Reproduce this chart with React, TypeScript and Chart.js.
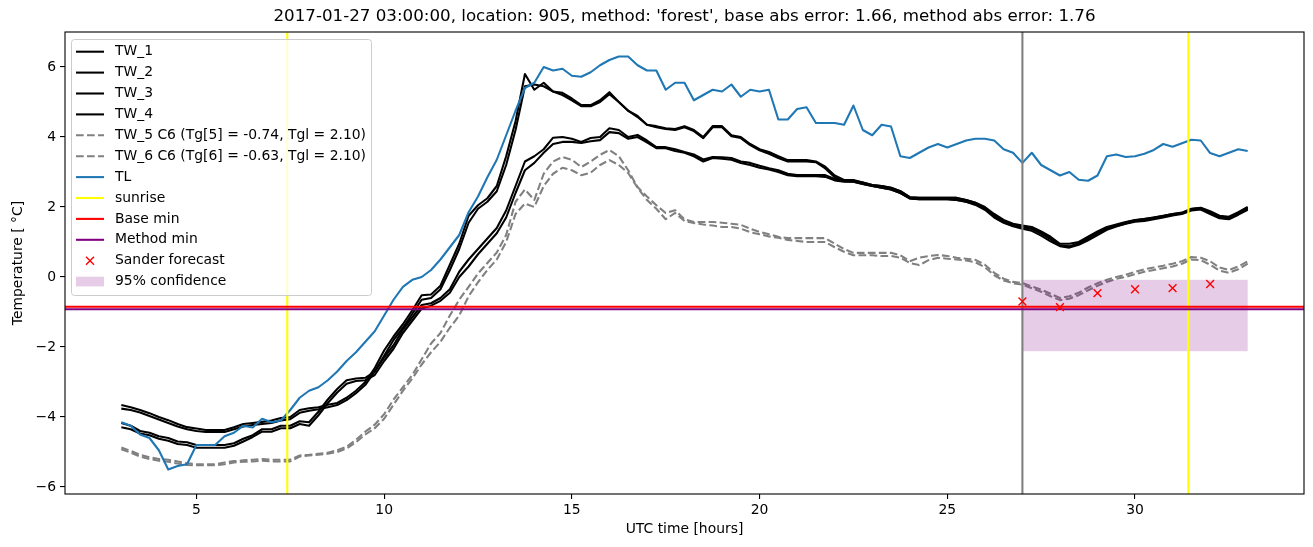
import { useEffect, useRef } from 'react';
import { Chart, registerables } from 'chart.js';

Chart.register(...registerables);

// time axis: 15-minute steps from 03:00 to 33:00 (hours since day start, UTC)
const HOURS: number[] = Array.from({ length: 121 }, (_, i) => 3 + i * 0.25);

const TW_1 = [
  -3.66, -3.72, -3.8, -3.89, -4.0, -4.09, -4.2, -4.29,
  -4.33, -4.37, -4.37, -4.37, -4.29, -4.2, -4.17, -4.14,
  -4.1, -4.03, -4.0, -3.8, -3.75, -3.72, -3.65, -3.6,
  -3.45, -3.25, -3.0, -2.6, -2.1, -1.7, -1.35, -0.95,
  -0.52, -0.5, -0.25, 0.35, 0.95, 1.75, 2.05, 2.25,
  2.6, 3.45, 4.45, 5.8, 5.35, 5.55, 5.3, 5.26,
  5.1, 4.91, 4.91, 5.05, 5.28, 5.0, 4.75, 4.6,
  4.35, 4.31, 4.25, 4.23, 4.31, 4.2, 4.0, 4.31,
  4.31, 4.05, 4.0, 3.8, 3.65, 3.57, 3.45, 3.34,
  3.34, 3.34, 3.3, 3.15, 2.9, 2.77, 2.77, 2.7,
  2.63, 2.6, 2.55, 2.45, 2.28, 2.26, 2.26, 2.26,
  2.26, 2.26, 2.2, 2.12, 2.0, 1.8, 1.63, 1.52,
  1.47, 1.43, 1.3, 1.15, 0.95, 0.95, 1.0, 1.15,
  1.3, 1.43, 1.5, 1.57, 1.63, 1.66, 1.7, 1.75,
  1.8, 1.84, 1.95, 1.98, 1.88, 1.75, 1.72, 1.85,
  2.0,
];

const TW_2 = [
  -3.76, -3.8, -3.87, -3.97, -4.07, -4.17, -4.27, -4.35,
  -4.4, -4.43, -4.43, -4.43, -4.35, -4.27, -4.23, -4.2,
  -4.17, -4.1, -4.06, -3.88, -3.82, -3.78, -3.72, -3.66,
  -3.52, -3.32, -3.08, -2.7, -2.25, -1.8, -1.45, -1.05,
  -0.65, -0.6, -0.35, 0.2, 0.8, 1.55, 1.95, 2.15,
  2.45, 3.2, 4.2, 5.45, 5.5, 5.45, 5.3, 5.2,
  5.05, 4.88, 4.88, 5.0, 5.22, 5.0, 4.75, 4.57,
  4.35, 4.28, 4.23, 4.2, 4.28, 4.17, 3.97, 4.28,
  4.28, 4.02, 3.97, 3.77, 3.62, 3.52, 3.4, 3.3,
  3.3, 3.3, 3.28, 3.1, 2.85, 2.74, 2.72, 2.66,
  2.6, 2.55, 2.5, 2.4, 2.26, 2.22, 2.22, 2.22,
  2.22, 2.2, 2.15, 2.08, 1.95, 1.75, 1.58, 1.47,
  1.42, 1.38, 1.25, 1.08, 0.9, 0.88, 0.95, 1.1,
  1.25, 1.38, 1.46, 1.53, 1.6, 1.62, 1.67, 1.72,
  1.77, 1.82, 1.92, 1.95, 1.83, 1.7, 1.66, 1.8,
  1.95,
];

const TW_3 = [
  -4.17, -4.25, -4.4, -4.45, -4.55, -4.6, -4.7, -4.72,
  -4.8, -4.8, -4.8, -4.8, -4.75, -4.62, -4.52, -4.35,
  -4.35, -4.25, -4.25, -4.12, -4.15, -3.85, -3.5, -3.2,
  -2.95, -2.9, -2.88, -2.7, -2.3, -1.95, -1.5, -1.15,
  -0.8, -0.75, -0.6, -0.35, 0.15, 0.5, 0.8, 1.1,
  1.4, 1.9, 2.6, 3.3, 3.45, 3.65, 3.98, 4.0,
  3.95, 3.86, 3.97, 4.0, 4.25, 4.2, 4.0, 4.06,
  3.9, 3.71, 3.71, 3.65, 3.57, 3.5, 3.36, 3.43,
  3.42, 3.4, 3.3, 3.26, 3.18, 3.11, 3.05, 2.95,
  2.91, 2.91, 2.91, 2.91, 2.8, 2.75, 2.75, 2.7,
  2.63, 2.6, 2.55, 2.45, 2.28, 2.26, 2.26, 2.26,
  2.26, 2.26, 2.2, 2.12, 1.98, 1.75, 1.6, 1.48,
  1.43, 1.38, 1.25, 1.1, 0.9, 0.86, 0.98, 1.1,
  1.25, 1.4, 1.48, 1.56, 1.62, 1.65, 1.7, 1.74,
  1.8, 1.83, 1.94, 1.97, 1.85, 1.72, 1.7, 1.82,
  1.98,
];

const TW_4 = [
  -4.29, -4.35, -4.47, -4.52, -4.62, -4.68, -4.77, -4.8,
  -4.88, -4.88, -4.88, -4.88, -4.82, -4.7, -4.57, -4.42,
  -4.42, -4.32, -4.32, -4.2, -4.25, -3.95, -3.6, -3.3,
  -3.05, -2.97, -2.95, -2.8, -2.4, -2.05, -1.6, -1.25,
  -0.9, -0.82, -0.68, -0.45, 0.0, 0.3, 0.65, 0.95,
  1.25, 1.7, 2.4, 3.05, 3.26, 3.55, 3.8, 3.86,
  3.86, 3.83, 3.88, 3.91, 4.14, 4.11, 3.95, 4.0,
  3.85, 3.68, 3.68, 3.6, 3.55, 3.45, 3.3, 3.4,
  3.38, 3.35, 3.26, 3.2, 3.12, 3.07, 3.0, 2.91,
  2.88, 2.88, 2.88, 2.86, 2.76, 2.72, 2.72, 2.66,
  2.6, 2.55, 2.5, 2.4, 2.24, 2.22, 2.22, 2.22,
  2.22, 2.2, 2.15, 2.06, 1.92, 1.7, 1.55, 1.45,
  1.38, 1.32, 1.18, 1.02, 0.88, 0.84, 0.92, 1.05,
  1.2, 1.35, 1.44, 1.52, 1.58, 1.6, 1.65, 1.7,
  1.76, 1.8, 1.9, 1.93, 1.8, 1.68, 1.65, 1.78,
  1.92,
];

const TW_5 = [
  -4.87, -4.97, -5.08, -5.15, -5.2, -5.22, -5.27, -5.32,
  -5.35, -5.35, -5.35, -5.3, -5.26, -5.24, -5.22, -5.2,
  -5.22, -5.22, -5.22, -5.1, -5.08, -5.05, -5.02, -4.95,
  -4.85, -4.65, -4.42, -4.22, -3.92, -3.5, -3.15, -2.8,
  -2.35, -1.9, -1.6, -1.1, -0.65, -0.28, 0.1, 0.4,
  0.7, 1.2, 2.15, 2.5, 2.2, 2.95, 3.3, 3.43,
  3.35, 3.14, 3.3, 3.49, 3.63, 3.45, 3.05, 2.57,
  2.3, 2.05, 1.83, 1.91, 1.65, 1.57, 1.57, 1.57,
  1.55, 1.52, 1.49, 1.38, 1.29, 1.22, 1.15, 1.11,
  1.11, 1.11, 1.11, 1.11, 0.95, 0.8, 0.69, 0.69,
  0.69, 0.69, 0.69, 0.62, 0.45, 0.55, 0.6, 0.63,
  0.6, 0.55, 0.52, 0.49, 0.35, 0.12, -0.05, -0.14,
  -0.17, -0.27, -0.36, -0.48, -0.6, -0.55, -0.45, -0.3,
  -0.18, -0.08, 0.0, 0.06, 0.15, 0.22, 0.27, 0.32,
  0.38, 0.45, 0.57, 0.55, 0.45, 0.27, 0.2, 0.3,
  0.45,
];

const TW_6 = [
  -4.92, -5.02, -5.13, -5.2, -5.25, -5.28, -5.33, -5.37,
  -5.38, -5.38, -5.38, -5.35, -5.3, -5.28, -5.27, -5.25,
  -5.27, -5.27, -5.27, -5.13, -5.1, -5.08, -5.05, -5.0,
  -4.9, -4.72, -4.5, -4.32, -4.05, -3.65, -3.25, -2.9,
  -2.5, -2.15, -1.85, -1.45, -1.1, -0.55, -0.15, 0.2,
  0.5, 1.0, 1.8, 2.1, 2.0, 2.6, 2.95, 3.12,
  3.05, 2.91, 2.98, 3.2, 3.34, 3.2, 2.97, 2.55,
  2.2, 1.95, 1.65, 1.83, 1.6, 1.54, 1.5, 1.47,
  1.43, 1.43, 1.38, 1.28, 1.22, 1.16, 1.12, 1.06,
  1.03, 1.0, 1.0, 1.0, 0.85, 0.72, 0.62, 0.62,
  0.62, 0.6, 0.6, 0.55, 0.4, 0.34, 0.48, 0.55,
  0.52, 0.5, 0.47, 0.42, 0.28, 0.05, -0.1, -0.18,
  -0.22, -0.32, -0.42, -0.55, -0.66, -0.62, -0.52, -0.38,
  -0.25, -0.14, -0.05, 0.0, 0.08, 0.15, 0.2, 0.25,
  0.3, 0.38, 0.5, 0.48, 0.35, 0.18, 0.12, 0.22,
  0.38,
];

const TL = [
  -4.15, -4.25, -4.5, -4.6, -4.95, -5.5, -5.4, -5.35,
  -4.8, -4.8, -4.8, -4.55, -4.45, -4.25, -4.3, -4.05,
  -4.15, -4.1, -3.8, -3.45, -3.25, -3.15, -2.95, -2.7,
  -2.4, -2.15, -1.85, -1.55, -1.1, -0.65, -0.28, -0.08,
  0.0, 0.2, 0.5, 0.85, 1.2, 1.85, 2.3, 2.85,
  3.35, 4.05, 4.75, 5.4, 5.55, 6.0, 5.9, 5.95,
  5.75, 5.72, 5.85, 6.05, 6.2, 6.3, 6.3, 6.05,
  5.9, 5.9, 5.35, 5.55, 5.55, 5.05, 5.2, 5.35,
  5.3, 5.5, 5.15, 5.35, 5.3, 5.35, 4.5, 4.5,
  4.8, 4.85, 4.4, 4.4, 4.4, 4.35, 4.9, 4.2,
  4.05, 4.35, 4.3, 3.45, 3.4, 3.55, 3.7, 3.8,
  3.7, 3.8, 3.9, 3.95, 3.95, 3.9, 3.65, 3.55,
  3.26, 3.55, 3.2, 3.05, 2.9, 3.0, 2.78, 2.75,
  2.9, 3.45, 3.5, 3.43, 3.45, 3.52, 3.63, 3.8,
  3.72, 3.82, 3.92, 3.9, 3.54, 3.45, 3.55, 3.65,
  3.6,
];

const SANDER_HOURS = [27, 28, 29, 30, 31, 32];
const SANDER_VALUES = [-0.7, -0.86, -0.46, -0.35, -0.32, -0.2];

const SUNRISE_HOURS = [7.42, 31.42];
const FORECAST_START = [27];
const BASE_MIN = [-0.85];
const METHOD_MIN = [-0.92];
const CONF_HOURS = [27, 33];
const CONF_RANGE = [-2.12, -0.08];

const X_TICKS = [5, 10, 15, 20, 25, 30];
const Y_TICKS = [-6, -4, -2, 0, 2, 4, 6];

const TITLE = "2017-01-27 03:00:00, location: 905, method: 'forest', base abs error: 1.66, method abs error: 1.76";
const X_LABEL = 'UTC time [hours]';
const Y_LABEL = 'Temperature [ °C]';

const LW = 2.08;
const DASH = [7.7, 3.3];

const LEGEND_ITEMS = [
  { label: 'TW_1', kind: 'line', color: '#000000', dash: [] as number[] },
  { label: 'TW_2', kind: 'line', color: '#000000', dash: [] as number[] },
  { label: 'TW_3', kind: 'line', color: '#000000', dash: [] as number[] },
  { label: 'TW_4', kind: 'line', color: '#000000', dash: [] as number[] },
  { label: 'TW_5 C6 (Tg[5] = -0.74, Tgl = 2.10)', kind: 'line', color: '#808080', dash: DASH },
  { label: 'TW_6 C6 (Tg[6] = -0.63, Tgl = 2.10)', kind: 'line', color: '#808080', dash: DASH },
  { label: 'TL', kind: 'line', color: '#1f77b4', dash: [] as number[] },
  { label: 'sunrise', kind: 'line', color: '#ffff00', dash: [] as number[] },
  { label: 'Base min', kind: 'line', color: '#ff0000', dash: [] as number[] },
  { label: 'Method min', kind: 'line', color: '#800080', dash: [] as number[] },
  { label: 'Sander forecast', kind: 'marker', color: '#ff0000', dash: [] as number[] },
  { label: '95% confidence', kind: 'patch', color: 'rgba(128,0,128,0.2)', dash: [] as number[] },
];

const FONT = "'DejaVu Sans', 'Liberation Sans', sans-serif";
const FS = 13.9;

export default function App() {
  const ref = useRef<HTMLCanvasElement>(null);

  useEffect(() => {
    document.body.style.margin = '0';
    const canvas = ref.current;
    if (!canvas) return;

    const pts = (ys: number[]) => ys.map((y, i) => ({ x: HOURS[i], y }));

    const lineDs = (label: string, data: number[], color: string, order: number, dash: number[] = []) => ({
      label,
      data: pts(data),
      borderColor: color,
      backgroundColor: color,
      borderWidth: LW,
      borderDash: dash,
      borderJoinStyle: 'round',
      borderCapStyle: 'butt',
      pointRadius: 0,
      tension: 0,
      fill: false,
      order,
    });

    const overlay = {
      id: 'overlay',
      afterDatasetDraw(chart: any, args: any) {
        if (args.index !== 6) return;
        const { ctx, chartArea: a, scales } = chart;
        const xs = scales.x;
        const ys = scales.y;
        ctx.save();
        ctx.beginPath();
        ctx.rect(a.left, a.top, a.right - a.left, a.bottom - a.top);
        ctx.clip();
        // 95% confidence band
        const x0 = xs.getPixelForValue(CONF_HOURS[0]);
        const x1 = xs.getPixelForValue(CONF_HOURS[1]);
        const y0 = ys.getPixelForValue(CONF_RANGE[1]);
        const y1 = ys.getPixelForValue(CONF_RANGE[0]);
        ctx.fillStyle = 'rgba(128,0,128,0.2)';
        ctx.fillRect(x0, y0, x1 - x0, y1 - y0);
        ctx.lineWidth = LW;
        // forecast start
        ctx.strokeStyle = '#808080';
        FORECAST_START.forEach((h) => {
          const px = xs.getPixelForValue(h);
          ctx.beginPath();
          ctx.moveTo(px, a.top);
          ctx.lineTo(px, a.bottom);
          ctx.stroke();
        });
        // sunrise
        ctx.strokeStyle = '#ffff00';
        SUNRISE_HOURS.forEach((h) => {
          const px = xs.getPixelForValue(h);
          ctx.beginPath();
          ctx.moveTo(px, a.top);
          ctx.lineTo(px, a.bottom);
          ctx.stroke();
        });
        const hline = (v: number, c: string) => {
          const py = ys.getPixelForValue(v);
          ctx.strokeStyle = c;
          ctx.beginPath();
          ctx.moveTo(a.left, py);
          ctx.lineTo(a.right, py);
          ctx.stroke();
        };
        BASE_MIN.forEach((v) => hline(v, '#ff0000'));
        METHOD_MIN.forEach((v) => hline(v, '#800080'));
        ctx.restore();
      },
      afterDraw(chart: any) {
        const { ctx, chartArea: a } = chart;
        ctx.save();
        // frame
        ctx.strokeStyle = '#000';
        ctx.lineWidth = 1.1;
        ctx.strokeRect(a.left, a.top, a.right - a.left, a.bottom - a.top);
        // title
        ctx.fillStyle = '#000';
        ctx.textAlign = 'center';
        ctx.textBaseline = 'middle';
        ctx.font = `16.7px ${FONT}`;
        const cx = (a.left + a.right) / 2;
        ctx.fillText(TITLE, cx, 17);
        // axis labels
        ctx.font = `${FS}px ${FONT}`;
        ctx.fillText(X_LABEL, cx, 529);
        ctx.save();
        ctx.translate(18, (a.top + a.bottom) / 2);
        ctx.rotate(-Math.PI / 2);
        ctx.fillText(Y_LABEL, 0, 0);
        ctx.restore();
        // legend
        const lx = 71.5, ly = 39.5, lw = 300, lh = 256;
        ctx.beginPath();
        const r = 3;
        ctx.moveTo(lx + r, ly);
        ctx.lineTo(lx + lw - r, ly);
        ctx.arcTo(lx + lw, ly, lx + lw, ly + r, r);
        ctx.lineTo(lx + lw, ly + lh - r);
        ctx.arcTo(lx + lw, ly + lh, lx + lw - r, ly + lh, r);
        ctx.lineTo(lx + r, ly + lh);
        ctx.arcTo(lx, ly + lh, lx, ly + lh - r, r);
        ctx.lineTo(lx, ly + r);
        ctx.arcTo(lx, ly, lx + r, ly, r);
        ctx.closePath();
        ctx.fillStyle = 'rgba(255,255,255,0.8)';
        ctx.fill();
        ctx.strokeStyle = '#cccccc';
        ctx.lineWidth = 1;
        ctx.stroke();
        ctx.textAlign = 'left';
        ctx.textBaseline = 'middle';
        LEGEND_ITEMS.forEach((it, i) => {
          const y = 51.7 + i * 20.9;
          if (it.kind === 'line') {
            ctx.strokeStyle = it.color;
            ctx.lineWidth = LW;
            ctx.setLineDash(it.dash);
            ctx.beginPath();
            ctx.moveTo(76, y);
            ctx.lineTo(104, y);
            ctx.stroke();
            ctx.setLineDash([]);
          } else if (it.kind === 'marker') {
            ctx.strokeStyle = it.color;
            ctx.lineWidth = 1.4;
            const s = 4;
            ctx.beginPath();
            ctx.moveTo(90 - s, y - s);
            ctx.lineTo(90 + s, y + s);
            ctx.moveTo(90 - s, y + s);
            ctx.lineTo(90 + s, y - s);
            ctx.stroke();
          } else {
            ctx.fillStyle = it.color;
            ctx.fillRect(76, y - 4.9, 28, 9.7);
          }
          ctx.fillStyle = '#000';
          ctx.fillText(it.label, 115, y);
        });
        ctx.restore();
      },
    };

    const chart = new Chart(canvas, {
      type: 'line',
      data: {
        datasets: [
          lineDs('TW_1', TW_1, '#000000', 9),
          lineDs('TW_2', TW_2, '#000000', 8),
          lineDs('TW_3', TW_3, '#000000', 7),
          lineDs('TW_4', TW_4, '#000000', 6),
          lineDs('TW_5', TW_5, '#808080', 5, DASH),
          lineDs('TW_6', TW_6, '#808080', 4, DASH),
          lineDs('TL', TL, '#1f77b4', 3),
          {
            label: 'Sander forecast',
            data: SANDER_HOURS.map((h, i) => ({ x: h, y: SANDER_VALUES[i] })),
            showLine: false,
            pointStyle: 'crossRot',
            pointRadius: 5.5,
            borderColor: '#ff0000',
            backgroundColor: '#ff0000',
            pointBorderWidth: 1.4,
            borderWidth: 1.4,
            order: 0,
          } as any,
        ],
      },
      options: {
        animation: false,
        responsive: false,
        maintainAspectRatio: false,
        devicePixelRatio: 1,
        layout: { padding: { top: 32, right: 9, left: 0, bottom: 0 } },
        plugins: {
          legend: { display: false },
          title: { display: false },
          tooltip: { enabled: false },
        },
        events: [],
        scales: {
          x: {
            type: 'linear',
            min: 1.5,
            max: 34.5,
            afterBuildTicks: (s: any) => {
              s.ticks = X_TICKS.map((v) => ({ value: v }));
            },
            afterFit: (s: any) => {
              s.height = 53;
            },
            grid: { drawOnChartArea: false, drawTicks: true, tickLength: 5, color: '#000', lineWidth: 1.1 },
            border: { display: false },
            ticks: {
              color: '#000',
              font: { family: FONT, size: FS },
              padding: 3,
              maxRotation: 0,
              autoSkip: false,
              callback: (v: any) => String(v).replace('-', '\u2212'),
            },
          },
          y: {
            type: 'linear',
            min: -6.2,
            max: 7.0,
            afterBuildTicks: (s: any) => {
              s.ticks = Y_TICKS.map((v) => ({ value: v }));
            },
            afterFit: (s: any) => {
              s.width = 65;
            },
            grid: { drawOnChartArea: false, drawTicks: true, tickLength: 5, color: '#000', lineWidth: 1.1 },
            border: { display: false },
            ticks: {
              color: '#000',
              font: { family: FONT, size: FS },
              padding: 4,
              autoSkip: false,
              callback: (v: any) => String(v).replace('-', '\u2212'),
            },
          },
        },
      } as any,
      plugins: [overlay],
    });

    return () => chart.destroy();
  }, []);

  return (
    <div style={{ position: 'absolute', left: 0, top: 0, width: 1313, height: 547, background: '#fff' }}>
      <canvas ref={ref} width={1313} height={547} style={{ width: 1313, height: 547, display: 'block' }} />
    </div>
  );
}
